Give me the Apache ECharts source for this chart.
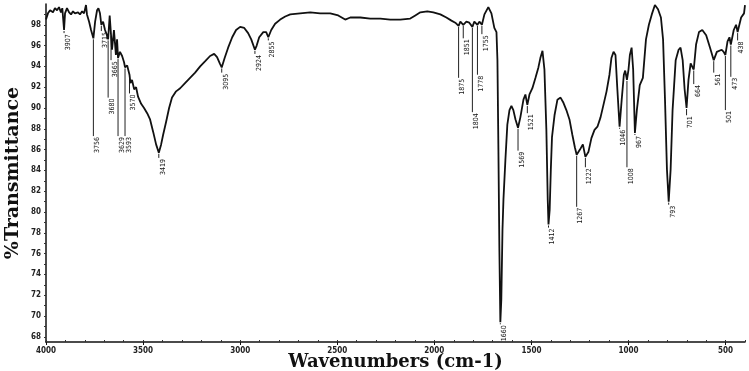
<!DOCTYPE html>
<html><head><meta charset="utf-8">
<script src="https://cdn.jsdelivr.net/npm/echarts@6/dist/echarts.min.js"></script>
<style>html,body{margin:0;padding:0;background:#fff}#c{width:749px;height:371px}</style>
</head><body><div id="c"></div>
<script>
const wavenumbers = [4000,3990,3979,3964,3954,3943,3933,3923,3916,3907,3902,3892,3881,3871,3861,3851,3835,3825,3814,3804,3794,3789,3778,3768,3756,3747,3737,3730,3722,3715,3706,3696,3688,3680,3672,3665,3660,3650,3640,3634,3629,3619,3608,3598,3593,3582,3570,3565,3557,3546,3536,3526,3510,3495,3479,3464,3448,3433,3419,3407,3397,3381,3366,3351,3330,3309,3284,3258,3232,3206,3180,3155,3134,3119,3105,3095,3080,3062,3041,3021,3000,2979,2959,2943,2924,2915,2902,2881,2866,2855,2840,2820,2794,2768,2742,2691,2639,2588,2536,2495,2459,2433,2381,2330,2278,2227,2175,2124,2098,2072,2036,2005,1969,1938,1912,1892,1875,1866,1851,1835,1820,1804,1794,1778,1768,1755,1742,1722,1706,1691,1680,1675,1670,1665,1660,1655,1649,1644,1634,1624,1613,1603,1593,1582,1569,1557,1541,1531,1521,1510,1495,1479,1464,1454,1443,1433,1423,1416,1412,1406,1400,1394,1381,1366,1350,1335,1320,1304,1289,1276,1267,1250,1235,1222,1206,1191,1175,1160,1144,1129,1113,1098,1088,1077,1067,1058,1046,1035,1024,1017,1008,1000,993,984,976,967,957,942,926,910,895,880,864,848,833,822,812,802,793,783,773,757,742,732,721,711,701,691,680,670,664,652,637,620,600,580,561,545,520,510,501,490,480,473,458,446,438,420,405,400];
const transmittance = [98.5,99.1,99.4,99.2,99.6,99.4,99.7,99.2,99.6,97.5,99.1,99.6,99.2,99.0,99.3,99.1,99.2,99.0,99.3,99.1,99.9,99.0,98.3,97.5,96.7,98.3,99.4,99.6,99.1,98.0,98.3,97.5,97.1,96.6,98.9,97.0,95.6,97.5,95.1,96.6,94.8,95.4,95.0,94.4,93.9,94.1,93.2,92.4,92.7,91.8,92.0,91.1,90.4,90.0,89.5,88.9,87.7,86.5,85.7,86.5,87.4,88.7,90.0,91.0,91.6,91.9,92.4,92.9,93.4,94.0,94.5,95.0,95.2,94.9,94.3,93.9,94.8,95.8,96.8,97.5,97.8,97.7,97.2,96.6,95.6,96.0,96.8,97.3,97.3,96.8,97.5,98.1,98.5,98.8,99.0,99.1,99.2,99.1,99.1,98.9,98.5,98.7,98.7,98.6,98.6,98.5,98.5,98.6,98.9,99.2,99.3,99.2,99.0,98.7,98.4,98.2,97.9,98.3,98.0,98.3,98.2,97.8,98.3,98.0,98.3,98.0,99.0,99.7,99.1,97.7,97.3,94.6,86.0,76.4,69.4,71.6,78.3,81.2,85.0,88.4,89.8,90.2,89.8,88.9,88.1,89.1,90.8,91.3,90.3,91.3,91.9,92.9,93.9,94.8,95.5,93.7,87.9,81.2,78.8,80.2,84.1,87.2,89.3,90.8,91.0,90.5,89.8,88.9,87.4,86.2,85.5,86.0,86.5,85.3,85.8,87.1,87.9,88.2,89.1,90.3,91.6,93.2,94.8,95.4,95.1,92.0,88.2,90.8,93.2,93.6,92.7,93.7,95.1,95.8,93.7,87.6,89.8,92.2,92.9,96.6,98.0,99.0,99.9,99.5,98.7,96.6,90.8,84.1,81.0,84.1,89.8,94.6,95.6,95.8,94.6,91.8,90.0,92.7,94.3,93.9,93.7,96.1,97.3,97.5,97.0,95.8,94.6,95.4,95.6,95.4,95.1,96.4,96.8,96.1,97.5,98.0,97.3,98.7,99.1,99.9];

// peak annotations: wavenumber, curve value (leader start), value where label starts
const peakWavenumbers = [3907,3756,3715,3680,3665,3629,3593,3570,3419,3095,2924,2855,1875,1851,1804,1778,1755,1660,1569,1521,1412,1267,1222,1046,1008,967,793,701,664,561,501,473,438];
const peakCurveT = [97.5,96.7,98.0,96.6,97.0,94.8,93.9,93.2,85.7,93.9,95.6,96.8,97.9,98.0,97.8,98.0,98.0,69.4,88.1,90.3,78.8,85.5,85.3,88.2,92.7,87.6,81.0,90.0,93.7,94.6,95.1,96.1,97.3];
const peakLabelT = [97.2,87.3,97.4,91.0,94.6,87.3,87.3,91.4,85.2,93.4,95.2,96.5,92.9,96.7,89.6,93.2,97.1,69.2,85.9,89.5,78.5,80.5,84.3,88.0,84.3,87.4,80.7,89.3,92.3,93.4,89.8,93.0,96.5];

const yTickLabels = [68,70,72,74,76,78,80,82,84,86,88,90,92,94,96,98];
const yMinorTicks = [68,69,70,71,72,73,74,75,76,77,78,79,80,81,82,83,84,85,86,87,88,89,90,91,92,93,94,95,96,97,98,99];
const xTickLabels = [500,1000,1500,2000,2500,3000,3500,4000];
const xMinorTicks = [400,500,600,700,800,900,1000,1100,1200,1300,1400,1500,1600,1700,1800,1900,2000,2100,2200,2300,2400,2500,2600,2700,2800,2900,3000,3100,3200,3300,3400,3500,3600,3700,3800,3900,4000];

const spectrum = wavenumbers.map((w, i) => [w, transmittance[i]]);
const peaks = peakWavenumbers.map((w, i) => [w, peakCurveT[i], peakLabelT[i]]);

const tickFont = "'Liberation Sans Narrow','DejaVu Sans Condensed',Arial,sans-serif";
const titleFont = "'DejaVu Serif','Liberation Serif',serif";
const chart = echarts.init(document.getElementById('c'), null, {renderer: 'canvas'});
chart.setOption({
  animation: false,
  backgroundColor: '#ffffff',
  grid: {left: 46, right: 4, top: 4, bottom: 29, containLabel: false, outerBoundsMode: 'none'},
  xAxis: [{
    type: 'value', min: 400, max: 4000, inverse: true,
    name: 'Wavenumbers (cm-1)', nameLocation: 'middle', nameGap: 11, nameMoveOverlap: false,
    nameTextStyle: {fontFamily: titleFont, fontWeight: 'bold', fontSize: 18, color: '#111'},
    axisLine: {lineStyle: {color: '#111', width: 1.5}},
    axisTick: {customValues: xTickLabels, length: 3, lineStyle: {color: '#111'}},
    axisLabel: {customValues: xTickLabels, formatter: v => String(v), fontSize: 8, fontWeight: 'bold', fontFamily: tickFont, color: '#222', margin: 5},
    splitLine: {show: false}
  }, {
    type: 'value', min: 400, max: 4000, inverse: true, position: 'bottom',
    axisLine: {show: false},
    axisTick: {customValues: xMinorTicks, length: 2, inside: true, lineStyle: {color: '#333'}},
    axisLabel: {show: false},
    splitLine: {show: false}
  }],
  yAxis: {
    type: 'value', min: 67.5, max: 100,
    name: '%Transmittance', nameLocation: 'middle', nameGap: 23, nameMoveOverlap: false,
    nameTextStyle: {fontFamily: titleFont, fontWeight: 'bold', fontSize: 19, color: '#111'},
    axisLine: {show: true, lineStyle: {color: '#111', width: 1.5}},
    axisTick: {show: true, customValues: yMinorTicks, length: 2, lineStyle: {color: '#333'}},
    axisLabel: {customValues: yTickLabels, formatter: v => String(v), fontSize: 8, fontWeight: 'bold', fontFamily: tickFont, color: '#222', margin: 5},
    splitLine: {show: false}
  },
  series: [{
    type: 'line', data: spectrum, xAxisIndex: 0, showSymbol: false, symbol: 'none',
    lineStyle: {color: '#111', width: 1.8}, smooth: false, z: 3
  }, {
    type: 'custom', data: peaks, xAxisIndex: 0, encode: {x: 0, y: 1}, z: 2,
    renderItem: function (params, api) {
      const w = api.value(0);
      const p0 = api.coord([w, api.value(1)]);
      const p1 = api.coord([w, api.value(2)]);
      const children = [];
      if (p1[1] - p0[1] > 2) {
        children.push({type: 'line', shape: {x1: p0[0], y1: p0[1] + 1, x2: p1[0], y2: p1[1]}, style: {stroke: '#222', lineWidth: 1}});
      }
      children.push({type: 'text', x: p1[0] + 0.5, y: p1[1] + 1, rotation: Math.PI / 2,
        style: {text: String(w), textAlign: 'right', textVerticalAlign: 'top', font: "7px " + tickFont, fill: '#111'}});
      return {type: 'group', children: children};
    }
  }]
});
</script>
</body></html>
